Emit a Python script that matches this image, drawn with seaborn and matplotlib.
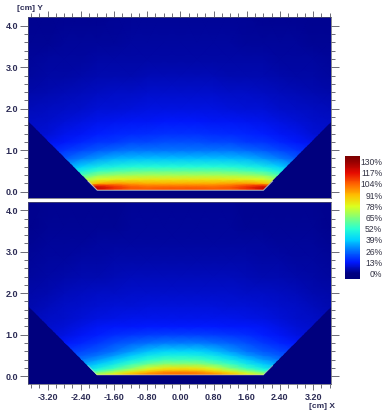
import numpy as np
import matplotlib
matplotlib.use("Agg")
import matplotlib.pyplot as plt
from matplotlib.colors import LinearSegmentedColormap
from matplotlib.patches import Polygon
import seaborn as sns

# grid nodes in cm, columns are |x| and get mirrored
x_nodes = [0.0, 0.4, 0.8, 1.2, 1.6, 2.0, 2.4, 2.8, 3.2, 3.6, 4.0]
y_nodes = [-0.3, 0.03, 0.06, 0.1, 0.15, 0.2, 0.3, 0.4, 0.5, 0.6, 0.8, 1.0, 1.2, 1.4,
           1.7, 2.0, 2.4, 2.8, 3.2, 3.6, 4.4]

# dose in percent, bottom row first
top_dose = [
    [106, 106, 106, 106, 110, 118, 118, 118, 118, 118, 118],
    [106, 106, 106, 106, 110, 118, 118, 118, 118, 118, 118],
    [106, 106, 105, 105, 111, 120, 120, 120, 120, 120, 120],
    [105, 105, 104, 106, 112, 122, 118, 110, 100, 100, 100],
    [100, 100, 100, 102, 108, 112, 100, 85, 75, 70, 70],
    [93, 93, 93, 95, 96, 92, 78, 62, 55, 50, 50],
    [82, 82, 82, 81, 80, 77, 66, 55, 42, 38, 38],
    [70, 70, 70, 69, 68, 65, 56, 46, 34, 30, 30],
    [60, 60, 60, 59, 57, 54, 47, 38, 28, 25, 25],
    [51, 51, 51, 50, 48, 45, 39, 32, 24, 21, 21],
    [37, 37, 37, 36, 35, 32, 28, 23, 19, 15, 15],
    [27, 27, 27, 27, 25, 23, 20, 17, 14, 11, 11],
    [21, 21, 20, 20, 18, 17, 15, 13, 11, 9, 9],
    [16.5, 16.5, 16, 15.5, 15, 14, 12, 11, 9, 8, 8],
    [12.5, 12.5, 12, 12, 11.5, 11, 10, 9, 8, 7, 7],
    [10, 10, 10, 9.5, 9, 9, 8, 7, 6.5, 6, 6],
    [7.5, 7.5, 7.5, 7, 7, 6.5, 6, 5.5, 5, 4.5, 4.5],
    [5.5, 5.5, 5.5, 5, 5, 5, 4.5, 4, 3.8, 3.5, 3.5],
    [4, 4, 4, 4, 3.8, 3.6, 3.4, 3.2, 3, 2.8, 2.8],
    [3, 3, 3, 3, 2.8, 2.7, 2.6, 2.5, 2.3, 2.2, 2.2],
    [2, 2, 2, 2, 2, 1.8, 1.8, 1.6, 1.5, 1.5, 1.5],
]
bottom_dose = [
    [102, 102, 100, 94, 86, 76, 62, 62, 62, 62, 62],
    [102, 102, 100, 94, 86, 76, 62, 62, 62, 62, 62],
    [102, 101, 98, 90, 80, 70, 56, 56, 56, 56, 56],
    [100, 99, 92, 84, 72, 62, 50, 42, 38, 38, 38],
    [90, 89, 83, 72, 62, 52, 44, 36, 32, 32, 32],
    [83, 82, 75, 64, 54, 46, 38, 32, 28, 28, 28],
    [66, 66, 61, 54, 45, 38, 32, 26, 22, 22, 22],
    [55, 55, 51, 45, 38, 32, 27, 22, 19, 19, 19],
    [48, 47, 44, 38, 32, 27, 23, 19, 16, 16, 16],
    [40, 40, 37, 32, 27, 23, 20, 17, 14, 14, 14],
    [28, 28, 26, 24, 21, 18, 15, 13, 11, 11, 11],
    [19, 19, 18.5, 17.5, 16, 14, 12, 10, 9, 8, 8],
    [13.5, 13.5, 13.5, 13, 12.5, 12, 10.5, 9, 8, 7, 7],
    [11, 11, 11, 11, 10.5, 10, 9, 8, 7, 6, 6],
    [9.5, 9.5, 9.5, 9, 9, 8.5, 7.5, 7, 6, 5, 5],
    [8, 8, 8, 7.5, 7, 7, 6.5, 6, 5, 4.5, 4.5],
    [6, 6, 6, 5.8, 5.5, 5.2, 5, 4.5, 4, 3.5, 3.5],
    [4.5, 4.5, 4.5, 4.3, 4.2, 4, 3.7, 3.4, 3, 2.8, 2.8],
    [3.5, 3.5, 3.5, 3.4, 3.2, 3, 2.9, 2.7, 2.5, 2.3, 2.3],
    [2.5, 2.5, 2.5, 2.5, 2.4, 2.3, 2.2, 2, 1.9, 1.8, 1.8],
    [2, 2, 2, 2, 1.8, 1.8, 1.6, 1.5, 1.5, 1.4, 1.4],
]

# beam outline and water surface line, in cm
beam_x = [-4.0, -4.0, -2.0, 2.0, 4.0, 4.0]
beam_y = [4.4, 2.03, 0.03, 0.03, 2.03, 4.4]
surface_x = [-2.22, -2.0, 2.0, 2.22]
surface_y = [0.25, 0.03, 0.03, 0.25]

# colour bar
bar_levels = [-6.5, 0, 13, 26, 39, 52, 65, 78, 91, 104, 117, 130, 136.5]
bar_colors = ["#00007a", "#000082", "#0018ff", "#006eff", "#00d2ff", "#28ffd2", "#82ff78",
              "#dcff1e", "#ffbe00", "#ff6400", "#e60a00", "#960000", "#7a0000"]
bar_ticks = [0, 13, 26, 39, 52, 65, 78, 91, 104, 117, 130]

x_major = [-3.2, -2.4, -1.6, -0.8, 0.0, 0.8, 1.6, 2.4, 3.2]
x_minor = [round(-3.6 + 0.2 * i, 1) for i in range(37)]
y_major = [0.0, 1.0, 2.0, 3.0, 4.0]
y_minor = [round(0.2 * i, 1) for i in range(21)]

plt.rcParams['font.family'] = ['Liberation Sans', 'DejaVu Sans']
W, H = 383, 413
ink = "#2b2b55"
tick_col = "#555560"

all_x = [-v for v in x_nodes[:0:-1]] + x_nodes
cmap = LinearSegmentedColormap.from_list(
    "dose", [((v + 6.5) / 143, c) for v, c in zip(bar_levels, bar_colors)])


def x_idx(x):
    return np.interp(x, all_x, range(len(all_x)))


def y_idx(y):
    return np.interp(y, y_nodes, range(len(y_nodes)))


def y_cm(i):
    return np.interp(i, range(len(y_nodes)), y_nodes)


def px_axes(left, top, right, bottom):
    return fig.add_axes([left / W, 1 - bottom / H, (right - left) / W, (bottom - top) / H])


def panel(ax, dose, xlim, ylim, with_bar=False, bar_ax=None, line_alpha=0.8):
    half = np.array(dose, dtype=float)
    grid = np.hstack([half[:, :0:-1], half])
    sns.heatmap(grid, ax=ax, cmap=cmap, vmin=-6.5, vmax=136.5, shading="gouraud",
                cbar=with_bar, cbar_ax=bar_ax, cbar_kws={"ticks": bar_ticks},
                xticklabels=False, yticklabels=False)
    ax.set_facecolor("#00007e")
    ax.set_yscale("function", functions=(y_cm, y_idx))
    ax.set_xlim(x_idx(xlim[0]), x_idx(xlim[1]))
    ax.set_ylim(y_idx(ylim[0]), y_idx(ylim[1]))

    mesh = ax.collections[0]
    outline = Polygon(np.column_stack([x_idx(beam_x), y_idx(beam_y)]), closed=True,
                      transform=ax.transData)
    mesh.set_clip_path(outline)
    ax.plot(x_idx(surface_x), y_idx(surface_y), color="#c8d2c8", lw=0.8, alpha=line_alpha)

    ax.set_yticks(y_idx(y_major))
    ax.set_yticklabels([f"{v:.1f}" for v in y_major], fontsize=6.5, fontweight="bold", color=ink)
    ax.set_yticks(y_idx(y_minor), minor=True)
    ax.set_xticks(x_idx(x_major))
    ax.set_xticks(x_idx(x_minor), minor=True)
    ax.tick_params(axis="y", which="major", left=True, right=True, length=5.5, width=0.6,
                   color=tick_col, pad=1.5)
    ax.tick_params(axis="y", which="minor", left=True, right=True, length=2.8, width=0.6,
                   color=tick_col)
    for side in ax.spines.values():
        side.set_visible(True)
        side.set_color("#555566")
        side.set_linewidth(0.5)


fig = plt.figure(figsize=(W / 100, H / 100), dpi=100)
top_ax = px_axes(28, 17, 331, 198)
low_ax = px_axes(28, 202, 331, 384)
bar_ax = px_axes(345, 156, 360, 279)

panel(top_ax, top_dose, (-3.67, 3.63), (-0.157, 4.215), with_bar=True, bar_ax=bar_ax)
panel(low_ax, bottom_dose, (-3.67, 3.63), (-0.19, 4.2), line_alpha=0.5)

top_ax.tick_params(axis="x", which="major", bottom=False, top=True, labelbottom=False,
                   length=4.5, width=0.6, color=tick_col)
top_ax.tick_params(axis="x", which="minor", bottom=False, top=True, length=2.8, width=0.6,
                   color=tick_col)
low_ax.tick_params(axis="x", which="major", bottom=True, top=False, length=4.5, width=0.6,
                   color=tick_col, pad=2)
low_ax.tick_params(axis="x", which="minor", bottom=True, top=False, length=2.8, width=0.6,
                   color=tick_col)
low_ax.set_xticklabels([f"{v:.2f}" for v in x_major], fontsize=6.5, fontweight="bold",
                       color=ink, rotation=0)

bar_ax.tick_params(axis="y", length=0, pad=16)
bar_ax.set_yticks(bar_ticks)
bar_ax.set_yticklabels([f"{v}%" for v in bar_ticks], fontsize=6.2, color="#333344", ha="right")
for side in bar_ax.spines.values():
    side.set_visible(False)

fig.text(17 / W, 1 - 8 / H, "[cm] Y", fontsize=6, fontweight="bold", color=ink, va="center")
fig.text(309 / W, 1 - 407 / H, "[cm] X", fontsize=6, fontweight="bold", color=ink, va="center")

fig.savefig("out.png", dpi=100)
